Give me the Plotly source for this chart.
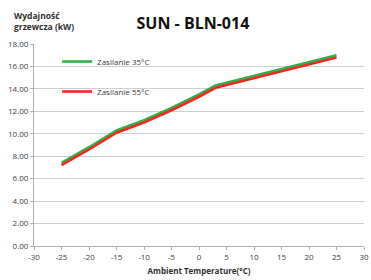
import plotly.graph_objects as go

temps = [-25, -20, -15, -10, -5, 0, 3, 10, 15, 20, 25]
cap_35 = [7.4, 8.8, 10.3, 11.2, 12.3, 13.5, 14.3, 15.15, 15.75, 16.4, 17.0]
cap_55 = [7.2, 8.6, 10.1, 11.0, 12.1, 13.3, 14.1, 14.95, 15.55, 16.2, 16.8]
x_ticks = list(range(-30, 31, 5))
y_ticks = [0, 2, 4, 6, 8, 10, 12, 14, 16, 18]

FONT = "Open Sans"

fig = go.Figure()
fig.add_trace(go.Scatter(x=temps, y=cap_35, mode="lines", name="Zasilanie 35°C",
                         line=dict(color="#2db34a", width=2.6), legendgroup="a"))
fig.add_trace(go.Scatter(x=temps, y=cap_55, mode="lines", name="Zasilanie 55°C",
                         line=dict(color="#ee2a24", width=2.6), legendgroup="b"))

fig.update_layout(
    width=371, height=280,
    margin=dict(l=34, r=7, t=44, b=34, autoexpand=False),
    paper_bgcolor="white", plot_bgcolor="white",
    font=dict(family=FONT, size=8, color="#404040"),
    title=dict(text="<b>SUN - BLN-014</b>", x=0.52, xanchor="center", y=0.915, yanchor="middle",
               font=dict(family=FONT, size=16, color="#111111")),
    showlegend=True,
    legend=dict(x=0.07, y=0.985, xanchor="left", yanchor="top", bgcolor="rgba(0,0,0,0)",
                font=dict(size=8, color="#404040"), tracegroupgap=11, itemwidth=30),
    xaxis=dict(range=[-30, 30], tickvals=x_ticks, ticktext=[str(v) for v in x_ticks],
               showgrid=False, zeroline=False, showline=True, linecolor="#b0b0b0", linewidth=1,
               ticks="outside", ticklen=3, tickcolor="#b0b0b0", automargin=False,
               tickfont=dict(size=8, color="#404040"),
               title=dict(text="<b>Ambient Temperature(°C)</b>", font=dict(size=8, color="#303030"), standoff=7)),
    yaxis=dict(range=[0, 18], tickvals=y_ticks, ticktext=["%.2f" % v for v in y_ticks],
               showgrid=True, gridcolor="#cfcfcf", gridwidth=1, zeroline=False,
               showline=True, linecolor="#b0b0b0", linewidth=1, automargin=False,
               ticks="outside", ticklen=3, tickcolor="#b0b0b0",
               tickfont=dict(size=8, color="#404040")),
)

fig.add_annotation(text="<b>Wydajność<br>grzewcza (kW)</b>", xref="paper", yref="paper",
                   x=-0.067, y=1.115, xanchor="left", yanchor="middle", align="left",
                   showarrow=False, font=dict(family=FONT, size=8.5, color="#303030"))

fig.write_html("out.html", config={"displayModeBar": False},
               post_script="document.body.style.margin='0';document.body.style.padding='0';")
